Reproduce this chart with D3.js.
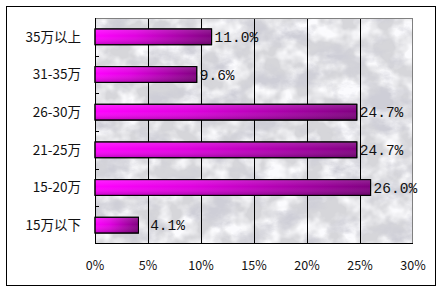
<!DOCTYPE html>
<html><head><meta charset="utf-8">
<script src="https://cdn.jsdelivr.net/npm/d3@7"></script>
<style>html,body{margin:0;padding:0;background:#fff;}svg{display:block;}</style>
</head><body>
<script>
const categories = ["35万以上","31-35万","26-30万","21-25万","15-20万","15万以下"];
const values = [11.0, 9.6, 24.7, 24.7, 26.0, 4.1];
const valueLabels = ["11.0%","9.6%","24.7%","24.7%","26.0%"," 4.1%"];
const xTicks = [0,5,10,15,20,25,30];

const W=444,H=294;
const svg=d3.select("body").append("svg").attr("width",W).attr("height",H);
const defs=svg.append("defs");

// marble texture: dark streaks
const f=defs.append("filter").attr("id","marble").attr("x",0).attr("y",0).attr("width","100%").attr("height","100%");
f.append("feTurbulence").attr("type","fractalNoise").attr("baseFrequency","0.03 0.045").attr("numOctaves",5).attr("seed",11).attr("result","n");
f.append("feColorMatrix").attr("in","n").attr("type","matrix")
 .attr("values","0 0 0 0 0.62  0 0 0 0 0.62  0 0 0 0 0.68  3.2 0 0 0 -1.45").attr("result","c");
f.append("feComposite").attr("in","c").attr("in2","SourceGraphic").attr("operator","in");
// light patches
const f2=defs.append("filter").attr("id","marble2").attr("x",0).attr("y",0).attr("width","100%").attr("height","100%");
f2.append("feTurbulence").attr("type","fractalNoise").attr("baseFrequency","0.05").attr("numOctaves",3).attr("seed",3).attr("result","n");
f2.append("feColorMatrix").attr("in","n").attr("type","matrix")
 .attr("values","0 0 0 0 0.97  0 0 0 0 0.97  0 0 0 0 0.99  0 -3 0 0 1.9").attr("result","c");
f2.append("feComposite").attr("in","c").attr("in2","SourceGraphic").attr("operator","in");

const gH=defs.append("linearGradient").attr("id","barH").attr("x1",0).attr("x2",1).attr("y1",0).attr("y2",0);
gH.append("stop").attr("offset","0").attr("stop-color","#ff00ff");
gH.append("stop").attr("offset","0.35").attr("stop-color","#e000e0");
gH.append("stop").attr("offset","1").attr("stop-color","#800080");
const gV=defs.append("linearGradient").attr("id","barV").attr("x1",0).attr("x2",0).attr("y1",0).attr("y2",1);
gV.append("stop").attr("offset","0").attr("stop-color","#ffffff").attr("stop-opacity",0.15);
gV.append("stop").attr("offset","0.45").attr("stop-color","#ffffff").attr("stop-opacity",0);
gV.append("stop").attr("offset","1").attr("stop-color","#000000").attr("stop-opacity",0.25);

// outer frame
svg.append("rect").attr("x",6.5).attr("y",6.5).attr("width",429).attr("height",279)
 .attr("fill","#fff").attr("stroke","#000").attr("stroke-width",1);

const m={l:95,t:18,r:413,b:244};
const x=d3.scaleLinear().domain([0,30]).range([m.l,m.r]);
const y=d3.scaleBand().domain(categories).range([m.t,m.b]).paddingInner(0.58).paddingOuter(0.29);
const yb=d3.scaleBand().domain(categories).range([m.t,m.b]);

// plot background
svg.append("rect").attr("x",m.l).attr("y",m.t).attr("width",m.r-m.l).attr("height",m.b-m.t).attr("fill","#d6d6da");
svg.append("rect").attr("x",m.l).attr("y",m.t).attr("width",m.r-m.l).attr("height",m.b-m.t).attr("fill","#ffffff").attr("filter","url(#marble2)");
svg.append("rect").attr("x",m.l).attr("y",m.t).attr("width",m.r-m.l).attr("height",m.b-m.t).attr("fill","#ffffff").attr("filter","url(#marble)");

// gridlines
svg.append("g").selectAll("line").data(xTicks.slice(1,-1)).join("line")
 .attr("x1",d=>Math.round(x(d))+0.5).attr("x2",d=>Math.round(x(d))+0.5).attr("y1",m.t).attr("y2",m.b)
 .attr("stroke","#000").attr("stroke-width",1);
// plot border
svg.append("rect").attr("x",m.l+0.5).attr("y",m.t+0.5).attr("width",m.r-m.l-1).attr("height",m.b-m.t-1)
 .attr("fill","none").attr("stroke","#808080").attr("stroke-width",1);
svg.append("line").attr("x1",m.l+0.5).attr("x2",m.l+0.5).attr("y1",m.t).attr("y2",m.b).attr("stroke","#000");
svg.append("line").attr("x1",m.l).attr("x2",m.r).attr("y1",m.b-0.5).attr("y2",m.b-0.5).attr("stroke","#000");

// ticks on band boundaries
svg.append("g").selectAll("line").data(categories.slice(1)).join("line")
 .attr("x1",m.l).attr("x2",m.l+4).attr("y1",d=>Math.round(yb(d))+0.5).attr("y2",d=>Math.round(yb(d))+0.5).attr("stroke","#000");

// bars
const bars=svg.append("g").selectAll("g").data(values).join("g");
bars.append("rect").attr("x",m.l).attr("y",(d,i)=>y(categories[i])).attr("width",d=>x(d)-m.l).attr("height",y.bandwidth())
 .attr("fill","url(#barH)").attr("stroke","#000").attr("stroke-width",1);
bars.append("rect").attr("x",m.l).attr("y",(d,i)=>y(categories[i])).attr("width",d=>x(d)-m.l).attr("height",y.bandwidth())
 .attr("fill","url(#barV)").attr("stroke","#000").attr("stroke-width",1);

// value labels
svg.append("g").selectAll("text").data(values).join("text")
 .attr("x",d=>x(d)+3).attr("y",(d,i)=>y(categories[i])+y.bandwidth()/2).attr("dy","0.36em")
 .attr("font-family","Liberation Mono, DejaVu Sans Mono, monospace").attr("font-size",14.5)
 .attr("fill","#111").style("white-space","pre").attr("xml:space","preserve")
 .text((d,i)=>valueLabels[i]);

// category labels
svg.append("g").selectAll("text").data(categories).join("text")
 .attr("x",81).attr("y",d=>yb(d)+yb.bandwidth()/2).attr("dy","0.36em").attr("text-anchor","end")
 .attr("font-family","Noto Sans CJK SC, sans-serif").attr("font-size",13.5).attr("fill","#111").text(d=>d);

// x tick labels
svg.append("g").selectAll("text").data(xTicks).join("text")
 .attr("x",d=>x(d)).attr("y",265).attr("dy","0.36em").attr("text-anchor","middle")
 .attr("font-family","Noto Sans CJK SC, sans-serif").attr("font-size",12.5).attr("fill","#111").text(d=>d+"%");
</script>
</body></html>
